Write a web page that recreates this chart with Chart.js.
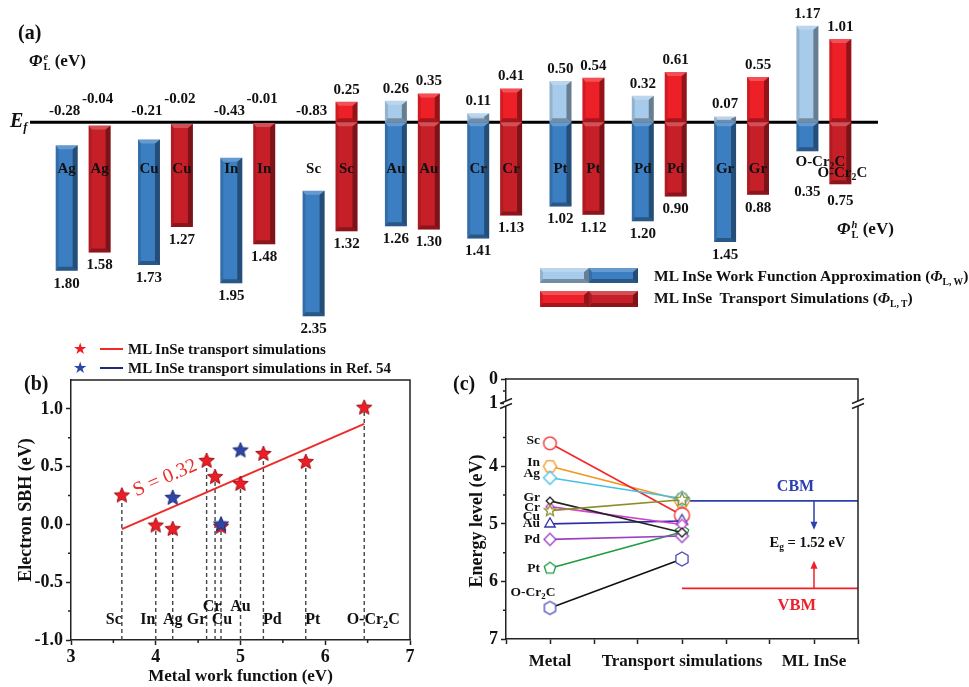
<!DOCTYPE html>
<html><head><meta charset="utf-8"><title>ML InSe Schottky barriers</title>
<script src="https://cdn.jsdelivr.net/npm/chart.js@4.4.1/dist/chart.umd.min.js"></script>
<style>
html,body{margin:0;padding:0;background:#fff;}
#wrap{position:relative;width:969px;height:687px;overflow:hidden;background:#fff;}
#wrap canvas{position:absolute;}
.t{position:absolute;white-space:nowrap;line-height:1;font-family:'Liberation Serif','Times New Roman',serif;font-weight:bold;color:#111;transform:translateY(-50%);}
.t sub{font-size:0.62em;vertical-align:-0.35em;line-height:0;}
.ss{display:inline-flex;flex-direction:column;font-size:0.62em;line-height:0.95;vertical-align:0.55em;margin-left:1px;}
.ln{position:absolute;height:2px;}
</style></head><body>
<div id="wrap">
<canvas id="chartA" width="969" height="345" style="left:0;top:0"></canvas>
<canvas id="chartB" width="480" height="347" style="left:0;top:340px"></canvas>
<canvas id="chartC" width="519" height="347" style="left:450px;top:340px"></canvas>

<div class="t" style="left:18px;top:32px;font-size:20px">(a)</div>
<div class="t" style="left:29px;top:62px;font-size:17px"><i>Φ</i><span class="ss"><i>e</i><span>L</span></span> (eV)</div>
<div class="t" style="left:10px;top:120px;font-size:20px"><i>E</i><sub><i>f</i></sub></div>
<div class="t" style="left:837px;top:230px;font-size:17px"><i>Φ</i><span class="ss"><i>h</i><span>L</span></span> (eV)</div>
<div class="t" style="left:654px;top:276px;font-size:15.5px">ML InSe Work Function Approximation (<i>Φ</i><sub>L, W</sub>)</div>
<div class="t" style="left:654px;top:298px;font-size:15.5px">ML InSe&nbsp; Transport Simulations (<i>Φ</i><sub>L, T</sub>)</div>

<div class="t" style="left:24px;top:383px;font-size:20px">(b)</div>
<div class="t" style="left:73px;top:349px;font-size:16px;color:#ee1c25;font-family:'DejaVu Sans'">★</div>
<div class="ln" style="left:100px;top:348px;width:23px;background:#ee2a2a"></div>
<div class="t" style="left:128px;top:349px;font-size:15px">ML InSe transport simulations</div>
<div class="t" style="left:73px;top:368px;font-size:16px;color:#2e45a6;font-family:'DejaVu Sans'">★</div>
<div class="ln" style="left:100px;top:367px;width:23px;background:#1f2a7a"></div>
<div class="t" style="left:128px;top:368px;font-size:15px">ML InSe transport simulations in Ref. 54</div>

<div class="t" style="left:453px;top:383px;font-size:20px">(c)</div>
</div>
<script>
// ---------------- DATA ----------------
// Panel (a): Schottky barrier heights (eV) per metal contact
const categoriesA = ['Ag','Cu','In','Sc','Au','Cr','Pt','Pd','Gr','O-Cr2C'];
const wfElectronSBH = [-0.28,-0.21,-0.43,-0.83,0.26,0.11,0.50,0.32,0.07,1.17];
const wfHoleSBH     = [1.80,1.73,1.95,2.35,1.26,1.41,1.02,1.20,1.45,0.35];
const tsElectronSBH = [-0.04,-0.02,-0.01,0.25,0.35,0.41,0.54,0.61,0.55,1.01];
const tsHoleSBH     = [1.58,1.27,1.48,1.32,1.30,1.13,1.12,0.90,0.88,0.75];

// Panel (b): electron SBH vs metal work function
const metalsB = ['Sc','In','Ag','Gr','Cr','Cu','Au','Pd','Pt','O-Cr2C'];
const metalWorkFunction = [3.6,4.0,4.2,4.6,4.7,4.77,5.0,5.27,5.77,6.46];
const electronSBH = [0.25,-0.01,-0.04,0.55,0.41,-0.02,0.35,0.61,0.54,1.01];
const refWorkFunction = [4.2,4.77,5.0];
const refSBH = [0.23,0.00,0.64];
const fitX = [3.6,6.46];
const fitY = [-0.04,0.87];
const pinningFactor = 0.32;

// Panel (c): energy levels (eV)
const levelCategories = ['Metal','Transport simulations','ML InSe'];
const transportLevel = [4.85,4.59,4.56,5.15,5.01,4.58,4.95,5.21,5.14,5.61];
const cbmLevel = 4.6;
const vbmLevel = 6.12;
const bandGap = 1.52;
const cbmArrowTip = 5.10;
const vbmArrowTip = 5.64;

// ---------------- HELPERS ----------------
const SERIF = "'Liberation Serif','Times New Roman',serif";
Chart.defaults.font.family = SERIF;
Chart.defaults.font.weight = 'bold';
Chart.defaults.color = '#111';

function fontStr(size, italic, normal){ return `${italic?'italic ':''}${normal?'':'bold '}${size}px ${SERIF}`; }
function drawRich(ctx, parts, x, y, size, align, color){
  ctx.save(); ctx.fillStyle = color || '#111'; ctx.textBaseline = 'middle'; ctx.textAlign = 'left';
  const items = parts.map(p => { const s = p.k ? size*0.65 : size; ctx.font = fontStr(s, p.i); return {p, s, w: ctx.measureText(p.t).width}; });
  const total = items.reduce((a,b)=>a+b.w,0);
  let cx = align==='left' ? x : align==='right' ? x-total : x-total/2;
  items.forEach(it => { ctx.font = fontStr(it.s, it.p.i); const dy = it.p.k==='sub' ? size*0.3 : it.p.k==='sup' ? -size*0.35 : 0; ctx.fillText(it.p.t, cx, y+dy); cx += it.w; });
  ctx.restore();
}
function nameParts(n){ const m = n.match(/^(.*?)(\d)(.*)$/); return m ? [{t:m[1]},{t:m[2],k:'sub'},{t:m[3]}] : [{t:n}]; }
function poly(ctx, pts, fill){ ctx.beginPath(); pts.forEach((p,i)=> i?ctx.lineTo(p[0],p[1]):ctx.moveTo(p[0],p[1])); ctx.closePath(); ctx.fillStyle = fill; ctx.fill(); }
function bevel(ctx, l, t, r, b){
  const h = b - t, w = r - l; if (h <= 0.5) return;
  const d = Math.min(4, h/2.5), sr = Math.min(5, w/4), sl = Math.min(3, w/6);
  poly(ctx, [[r-sr,t+d],[r,t],[r,b],[r-sr,b-d]], 'rgba(0,0,0,0.38)');
  poly(ctx, [[l,t],[l+sl,t+d],[l+sl,b-d],[l,b]], 'rgba(0,0,0,0.12)');
  poly(ctx, [[l,t],[r,t],[r-sr,t+d],[l+sl,t+d]], 'rgba(255,255,255,0.22)');
  poly(ctx, [[l,b],[l+sl,b-d],[r-sr,b-d],[r,b]], 'rgba(0,0,0,0.3)');
}

// ---------------- PANEL (a) ----------------
const aColors = {w:{above:'#a7cbea', below:'#3b7ec1'}, t:{above:'#ed1f27', below:'#c71f28'}};
function splitFill(key){
  return (c) => {
    const ch = c.chart, ca = ch.chartArea;
    if (!ca) return aColors[key].below;
    const yp = ch.scales.y.getPixelForValue(0);
    const g = ch.ctx.createLinearGradient(0, ca.top, 0, ca.bottom);
    const t = Math.min(1, Math.max(0, (yp-ca.top)/(ca.bottom-ca.top)));
    g.addColorStop(0, aColors[key].above); g.addColorStop(t, aColors[key].above);
    g.addColorStop(t, aColors[key].below); g.addColorStop(1, aColors[key].below);
    return g;
  };
}
function legendBar(ctx, x, y, w, h, key){
  ctx.save();
  ctx.fillStyle = aColors[key].above; ctx.fillRect(x, y, w/2, h);
  ctx.fillStyle = aColors[key].below; ctx.fillRect(x+w/2, y, w/2, h);
  bevel(ctx, x, y, x+w/2, y+h); bevel(ctx, x+w/2, y, x+w, y+h);
  ctx.restore();
}
const aDecor = {
  id:'aDecor',
  beforeDatasetsDraw(chart){
    const ctx = chart.ctx, y0 = chart.scales.y.getPixelForValue(0);
    ctx.save(); ctx.strokeStyle = '#000'; ctx.lineWidth = 3;
    ctx.beginPath(); ctx.moveTo(30, y0); ctx.lineTo(878, y0); ctx.stroke(); ctx.restore();
  },
  afterDatasetsDraw(chart){
    const ctx = chart.ctx, y0 = chart.scales.y.getPixelForValue(0);
    const el = [wfElectronSBH, tsElectronSBH], ho = [wfHoleSBH, tsHoleSBH];
    [0,1].forEach(d => {
      chart.getDatasetMeta(d).data.forEach((bar, i) => {
        const l = bar.x - bar.width/2, r = bar.x + bar.width/2;
        const top = Math.min(bar.y, bar.base), bot = Math.max(bar.y, bar.base);
        ctx.save();
        if (top < y0) bevel(ctx, l, top, r, Math.min(y0, bot));
        if (bot > y0) bevel(ctx, l, Math.max(top, y0), r, bot);
        ctx.restore();
        const v = el[d][i], h = ho[d][i];
        const ty = v >= 0 ? top - 12 : y0 - (d===0 ? 11 : 23);
        drawRich(ctx, [{t:v.toFixed(2)}], bar.x - (v<0?2:0), ty, 15);
        const last = categoriesA[i] === 'O-Cr2C';
        let by = bot + 13, lx = bar.x, ly = y0 + 47;
        if (last && d===0){ by = y0 + 70; lx = bar.x + 13; ly = y0 + 40; }
        if (last && d===1){ by = bot + 17; lx = bar.x + 2; ly = y0 + 51; }
        drawRich(ctx, [{t:h.toFixed(2)}], bar.x, by, 15);
        drawRich(ctx, nameParts(categoriesA[i]), lx, ly, 15);
      });
    });
    legendBar(ctx, 540, 268, 98, 15, 'w');
    legendBar(ctx, 540, 291, 98, 16, 't');
  }
};
new Chart(document.getElementById('chartA'), {
  type:'bar',
  data:{ labels: categoriesA, datasets:[
    {label:'ML InSe Work Function Approximation', data: wfElectronSBH.map((e,i)=>[-wfHoleSBH[i], e]), backgroundColor: splitFill('w')},
    {label:'ML InSe Transport Simulations', data: tsElectronSBH.map((e,i)=>[-tsHoleSBH[i], e]), backgroundColor: splitFill('t')}
  ]},
  options:{
    responsive:false, animation:false, events:[],
    layout:{padding:{left:42, right:104, top:15, bottom:16.5}},
    datasets:{bar:{categoryPercentage:0.8, barPercentage:0.667}},
    plugins:{legend:{display:false}, tooltip:{enabled:false}},
    scales:{ x:{display:false}, y:{display:false, min:-2.5, max:1.3} }
  },
  plugins:[aDecor]
});

// ---------------- MARKERS ----------------
function makeStar(r, fill, stroke){
  const s = Math.ceil(2*r+4), c = document.createElement('canvas'); c.width = s; c.height = s;
  const x = c.getContext('2d'); x.translate(s/2, s/2); x.beginPath();
  for (let k=0;k<10;k++){ const a = -Math.PI/2 + k*Math.PI/5, rr = k%2 ? r*0.45 : r; x.lineTo(rr*Math.cos(a), rr*Math.sin(a)); }
  x.closePath(); x.fillStyle = fill; x.fill(); if (stroke){ x.strokeStyle = stroke; x.lineWidth = 1; x.stroke(); }
  return c;
}
function makeMarker(shape, color, r){
  const s = Math.ceil(2*r+4), c = document.createElement('canvas'); c.width = s; c.height = s;
  const x = c.getContext('2d'); x.translate(s/2, s/2); x.beginPath();
  const ngon = (n, a0) => { for (let k=0;k<n;k++){ const a = a0 + k*2*Math.PI/n; x.lineTo(r*Math.cos(a), r*Math.sin(a)); } x.closePath(); };
  if (shape==='circle') x.arc(0,0,r,0,Math.PI*2);
  else if (shape==='hexFlat') ngon(6, 0);
  else if (shape==='hexPointy') ngon(6, -Math.PI/2);
  else if (shape==='diamond') ngon(4, -Math.PI/2);
  else if (shape==='triangle') ngon(3, -Math.PI/2);
  else if (shape==='pentagon') ngon(5, -Math.PI/2);
  else if (shape==='star'){ for (let k=0;k<10;k++){ const a = -Math.PI/2 + k*Math.PI/5, rr = k%2 ? r*0.45 : r; x.lineTo(rr*Math.cos(a), rr*Math.sin(a)); } x.closePath(); }
  x.fillStyle = '#fff'; x.fill(); x.strokeStyle = color; x.lineWidth = 1.3; x.stroke();
  return c;
}

const tickFont = {family:SERIF, size:18, weight:'bold'};
const axisGrid = {drawOnChartArea:false, drawTicks:true, tickLength:5, tickColor:'#222', tickWidth:1.5};
const axisBorder = {display:true, color:'#222', width:1.5};

// ---------------- PANEL (b) ----------------
const bLabelPos = {Sc:[-8,-0.83], In:[-8,-0.83], Ag:[0,-0.83], Gr:[-10,-0.83], Cr:[-3,-0.71], Cu:[1,-0.83], Au:[0,-0.71], Pd:[9,-0.83], Pt:[7,-0.83], 'O-Cr2C':[9,-0.83]};
const bDecor = {
  id:'bDecor',
  beforeDatasetsDraw(chart){
    const {ctx, chartArea:ca, scales:{x, y}} = chart;
    ctx.save(); ctx.strokeStyle = '#444'; ctx.lineWidth = 1.4; ctx.setLineDash([4,3]);
    metalWorkFunction.forEach((w,i) => { const px = x.getPixelForValue(w); ctx.beginPath(); ctx.moveTo(px, ca.bottom); ctx.lineTo(px, y.getPixelForValue(electronSBH[i])); ctx.stroke(); });
    ctx.restore();
    metalsB.forEach((m,i) => { const o = bLabelPos[m]; drawRich(ctx, nameParts(m), x.getPixelForValue(metalWorkFunction[i]) + o[0], y.getPixelForValue(o[1]), 16); });
    const ang = Math.atan2(y.getPixelForValue(fitY[1]) - y.getPixelForValue(fitY[0]), x.getPixelForValue(fitX[1]) - x.getPixelForValue(fitX[0]));
    ctx.save(); ctx.translate(x.getPixelForValue(4.11), y.getPixelForValue(0.40)); ctx.rotate(ang);
    ctx.font = fontStr(20, false, true); ctx.fillStyle = '#ee2a2a'; ctx.textAlign = 'center'; ctx.textBaseline = 'middle';
    ctx.fillText('S = ' + pinningFactor.toFixed(2), 0, 0); ctx.restore();
  },
  afterDraw(chart){
    const {ctx, chartArea:ca, scales:{x, y}} = chart;
    ctx.save(); ctx.strokeStyle = '#222'; ctx.lineWidth = 1.5;
    ctx.beginPath(); ctx.moveTo(ca.left, ca.top); ctx.lineTo(ca.right, ca.top); ctx.lineTo(ca.right, ca.bottom); ctx.stroke();
    ctx.beginPath();
    [3.5,4.5,5.5,6.5].forEach(v => { const p = x.getPixelForValue(v); ctx.moveTo(p, ca.bottom); ctx.lineTo(p, ca.bottom+3); });
    [-0.75,-0.25,0.25,0.75].forEach(v => { const p = y.getPixelForValue(v); ctx.moveTo(ca.left, p); ctx.lineTo(ca.left-3, p); });
    ctx.stroke(); ctx.restore();
  }
};
new Chart(document.getElementById('chartB'), {
  type:'scatter',
  data:{ datasets:[
    {label:'ML InSe transport simulations in Ref. 54', data: refWorkFunction.map((x,i)=>({x, y:refSBH[i]})), pointStyle: makeStar(8,'#2e45a6','#1d2d78'), order:0},
    {label:'ML InSe transport simulations', data: metalWorkFunction.map((x,i)=>({x, y:electronSBH[i]})), pointStyle: makeStar(8,'#ee1c25','#9e1016'), order:1},
    {label:'fit', data: fitX.map((x,i)=>({x, y:fitY[i]})), showLine:true, borderColor:'#ee2a2a', borderWidth:2, pointRadius:0, order:2}
  ]},
  options:{
    responsive:false, animation:false, events:[],
    layout:{padding:{left:0, top:40, right:70, bottom:0}},
    plugins:{legend:{display:false}, tooltip:{enabled:false}},
    scales:{
      x:{type:'linear', min:3, max:7, afterBuildTicks: s => { s.ticks = [3,4,5,6,7].map(v=>({value:v})); },
        ticks:{font:tickFont, color:'#111', padding:2}, grid:axisGrid, border:axisBorder,
        title:{display:true, text:'Metal work function (eV)', font:{family:SERIF, size:17, weight:'bold'}, color:'#111', padding:{top:0, bottom:0}},
        afterFit: s => { s.height = 47; }},
      y:{type:'linear', min:-1, max:1.25, afterBuildTicks: s => { s.ticks = [-1,-0.5,0,0.5,1].map(v=>({value:v})); },
        ticks:{font:tickFont, color:'#111', padding:3, autoSkip:false, callback: v => Number(v).toFixed(1)}, grid:axisGrid, border:axisBorder,
        title:{display:true, text:'Electron SBH (eV)', font:{family:SERIF, size:18, weight:'bold'}, color:'#111', padding:{top:16, bottom:0}},
        afterFit: s => { s.width = 71; }}
    }
  },
  plugins:[bDecor]
});

// ---------------- PANEL (c) ----------------
const cStyle = {
  Sc:{color:'#f2262b', shape:'circle', r:6.3, r2:7.5, order:8},
  In:{color:'#f7931e', shape:'hexFlat', r:6.5, r2:8, order:9},
  Ag:{color:'#45c1e6', shape:'diamond', r:6.5, r2:7.5, order:2},
  Gr:{color:'#222222', shape:'diamond', r:3.8, r2:4.5, order:3},
  Cr:{color:'#d23fcf', shape:'diamond', r:4, r2:5, order:4},
  Cu:{color:'#8c8c2a', shape:'star', r:6, r2:7, order:1},
  Au:{color:'#2d2da6', shape:'triangle', r:6, r2:6.5, order:5},
  Pd:{color:'#9a3fc6', shape:'diamond', r:6, r2:6.5, order:6},
  Pt:{color:'#1d9b42', shape:'pentagon', r:6, r2:7, order:7},
  'O-Cr2C':{color:'#4a4ab8', line:'#111111', shape:'hexPointy', r:6.5, r2:7, order:10}
};
const xAxisMin = 2/3, xAxisMax = 10/3;
const cDatasets = metalsB.map((m,i) => ({
  label:m,
  data:[{x:1, y:metalWorkFunction[i]}, {x:2, y:transportLevel[i]}],
  showLine:true, borderColor: cStyle[m].line || cStyle[m].color, borderWidth:1.6,
  pointStyle:[makeMarker(cStyle[m].shape, cStyle[m].color, cStyle[m].r), makeMarker(cStyle[m].shape, cStyle[m].color, cStyle[m].r2)],
  pointRadius:5, order:cStyle[m].order
}));
cDatasets.push({label:'CBM', data:[{x:2, y:cbmLevel},{x:xAxisMax, y:cbmLevel}], showLine:true, borderColor:'#2b3fae', borderWidth:1.8, pointRadius:0, order:20});
cDatasets.push({label:'VBM', data:[{x:2, y:vbmLevel},{x:xAxisMax, y:vbmLevel}], showLine:true, borderColor:'#f0202a', borderWidth:1.8, pointRadius:0, order:21});

const cLabelOff = {Sc:-3, In:-4, Ag:-4, Gr:-3, Cr:1, Cu:6, Au:0, Pd:0, Pt:0, 'O-Cr2C':-15};
function arrow(ctx, x, y1, y2, color){
  ctx.save(); ctx.strokeStyle = color; ctx.fillStyle = color; ctx.lineWidth = 1.5;
  const dir = Math.sign(y2 - y1);
  ctx.beginPath(); ctx.moveTo(x, y1); ctx.lineTo(x, y2 - dir*7); ctx.stroke();
  ctx.beginPath(); ctx.moveTo(x, y2); ctx.lineTo(x-3.5, y2 - dir*8); ctx.lineTo(x+3.5, y2 - dir*8); ctx.closePath(); ctx.fill();
  ctx.restore();
}
const cDecor = {
  id:'cDecor',
  afterDatasetsDraw(chart){
    const ctx = chart.ctx, xs = chart.scales.x, ys = chart.scales.y;
    metalsB.forEach((m,i) => {
      const px = xs.getPixelForValue(1), py = ys.getPixelForValue(metalWorkFunction[i]) + cLabelOff[m];
      if (m === 'O-Cr2C') drawRich(ctx, nameParts(m), px - 17, py, 13.5);
      else drawRich(ctx, nameParts(m), px - 10, py, 13.5, 'right');
    });
    const ax = xs.getPixelForValue(3);
    arrow(ctx, ax, ys.getPixelForValue(cbmLevel), ys.getPixelForValue(cbmArrowTip), '#2b3fae');
    arrow(ctx, ax, ys.getPixelForValue(vbmLevel), ys.getPixelForValue(vbmArrowTip), '#f0202a');
    drawRich(ctx, [{t:'CBM'}], xs.getPixelForValue(2.86), ys.getPixelForValue(4.35), 16, 'center', '#2b3fae');
    drawRich(ctx, [{t:'VBM'}], xs.getPixelForValue(2.87), ys.getPixelForValue(6.42), 16.5, 'center', '#f0202a');
    drawRich(ctx, [{t:'E'},{t:'g',k:'sub'},{t:' = ' + bandGap.toFixed(2) + ' eV'}], xs.getPixelForValue(2.95), ys.getPixelForValue(5.34), 14.5);
  },
  afterDraw(chart){
    const ctx = chart.ctx, ca = chart.chartArea, ys = chart.scales.y, yb = chart.scales.yb;
    ctx.save(); ctx.strokeStyle = '#222'; ctx.lineWidth = 1.5;
    ctx.beginPath(); ctx.moveTo(ca.left, ca.top); ctx.lineTo(ca.right, ca.top); ctx.lineTo(ca.right, ca.bottom); ctx.stroke();
    ctx.beginPath();
    [3.5,4.5,5.5,6.5].forEach(v => { const p = ys.getPixelForValue(v); ctx.moveTo(ca.left, p); ctx.lineTo(ca.left-3, p); });
    const pb = yb.getPixelForValue(0.5); ctx.moveTo(ca.left, pb); ctx.lineTo(ca.left-3, pb);
    ctx.stroke();
    const by = yb.bottom;
    [ca.left, ca.right].forEach(x => {
      ctx.fillStyle = '#fff'; ctx.fillRect(x-2, by-2, 4, 5);
      ctx.beginPath(); ctx.moveTo(x-6, by+0.5); ctx.lineTo(x+6, by-4.5); ctx.moveTo(x-6, by+5.5); ctx.lineTo(x+6, by+0.5); ctx.stroke();
    });
    ctx.restore();
  }
};
new Chart(document.getElementById('chartC'), {
  type:'scatter',
  data:{ datasets: cDatasets },
  options:{
    responsive:false, animation:false, events:[],
    layout:{padding:{left:0, top:39, right:111, bottom:0}},
    plugins:{legend:{display:false}, tooltip:{enabled:false}},
    scales:{
      x:{type:'linear', min:xAxisMin, max:xAxisMax,
        afterBuildTicks: s => { s.ticks = [2,3,4,5,6,7,8,9,10].map(k=>({value:k/3})); },
        ticks:{autoSkip:false, maxRotation:0, minRotation:0, font:{family:SERIF, size:17, weight:'bold'}, color:'#111', padding:7,
          callback: v => { const r = Math.round(v); return Math.abs(v - r) < 1e-6 ? levelCategories[r-1] : ''; }},
        grid:axisGrid, border:axisBorder, afterFit: s => { s.height = 48; }},
      y:{type:'linear', position:'left', stack:'energy', stackWeight:236, weight:1, reverse:true, min:2.9, max:7,
        afterBuildTicks: s => { s.ticks = [4,5,6,7].map(v=>({value:v})); },
        ticks:{font:tickFont, color:'#111', padding:3, autoSkip:false, callback: v => String(v)}, grid:axisGrid, border:axisBorder,
        title:{display:true, text:'Energy level (eV)', font:{family:SERIF, size:18, weight:'bold'}, color:'#111', padding:{top:17, bottom:0}},
        afterFit: s => { s.width = 56; }},
      yb:{type:'linear', position:'left', stack:'energy', stackWeight:24, weight:2, reverse:true, min:0, max:1,
        afterBuildTicks: s => { s.ticks = [0,1].map(v=>({value:v})); },
        ticks:{font:tickFont, color:'#111', padding:3, autoSkip:false, callback: v => String(v)}, grid:axisGrid, border:axisBorder,
        afterFit: s => { s.width = 56; }}
    }
  },
  plugins:[cDecor]
});
</script>
</body></html>
